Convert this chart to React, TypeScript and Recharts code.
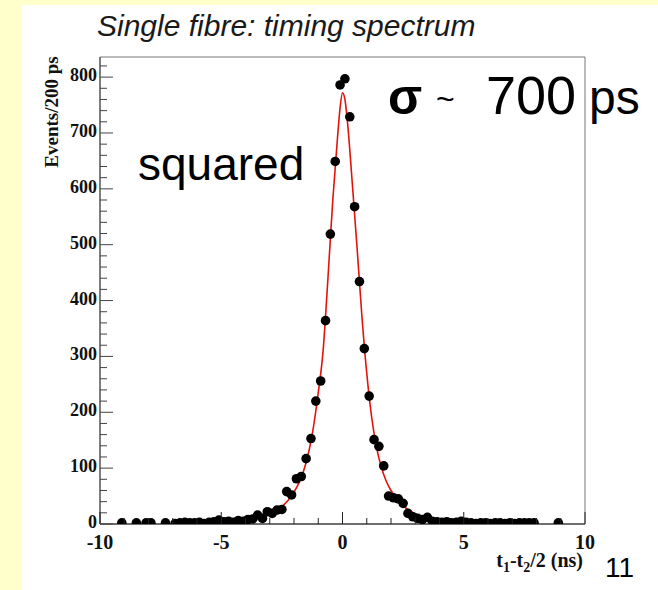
import React from "react";
import {
  ComposedChart,
  Scatter,
  Line,
  XAxis,
  YAxis,
  ReferenceArea,
} from "recharts";

// histogram: bin centres (ns) and counts per 200 ps
const binCentres = [
  -9.1, -8.5, -8.1, -7.9, -7.3, -6.9, -6.7, -6.5, -6.3, -6.1, -5.9, -5.7, -5.5, -5.3,
  -5.1, -4.9, -4.7, -4.5, -4.3, -4.1, -3.9, -3.7, -3.5, -3.3, -3.1, -2.9, -2.7, -2.5,
  -2.3, -2.1, -1.9, -1.7, -1.5, -1.3, -1.1, -0.9, -0.7, -0.5, -0.3, -0.1, 0.1, 0.3,
  0.5, 0.7, 0.9, 1.1, 1.3, 1.5, 1.7, 1.9, 2.1, 2.3, 2.5, 2.7, 2.9, 3.1, 3.3, 3.5,
  3.7, 3.9, 4.1, 4.3, 4.5, 4.7, 4.9, 5.1, 5.3, 5.5, 5.7, 5.9, 6.1, 6.3, 6.5, 6.7,
  6.9, 7.1, 7.3, 7.5, 7.7, 7.9, 8.9,
];
const counts = [
  2, 2, 2, 2, 2, 1, 2, 3, 2, 2, 3, 1, 3, 4,
  7, 4, 5, 3, 6, 5, 8, 9, 16, 10, 22, 19, 25, 26,
  58, 52, 81, 85, 117, 153, 220, 256, 364, 519, 649, 786, 797, 729,
  568, 434, 314, 229, 151, 139, 104, 50, 47, 45, 37, 19, 13, 10, 8, 12,
  5, 4, 3, 4, 2, 3, 5, 3, 2, 1, 2, 2, 1, 2, 2, 1,
  2, 1, 2, 2, 2, 2, 2,
];

// fitted curve
const fitT = [
  -7, -6, -5, -4.5, -4, -3.5, -3, -2.5, -2.25, -2, -1.75, -1.5, -1.25, -1, -0.8,
  -0.6, -0.4, -0.2, -0.1, 0, 0.1, 0.2, 0.4, 0.6, 0.8, 1, 1.2, 1.4, 1.6, 1.8, 2,
  2.25, 2.5, 3, 3.5, 4, 4.5, 5, 6, 7,
];
const fitV = [
  1, 1.5, 3, 4.5, 7, 11, 18, 31, 42, 57, 78, 110, 160, 235, 310,
  440, 580, 695, 745, 772, 760, 722, 612, 495, 372, 270, 192, 138, 102, 77, 60,
  45, 33, 18, 11, 7, 4.5, 3, 1.5, 1,
];

const xTicks = [-10, -9, -8, -7, -6, -5, -4, -3, -2, -1, 0, 1, 2, 3, 4, 5, 6, 7, 8, 9, 10];
const yTicks = [
  0, 20, 40, 60, 80, 100, 120, 140, 160, 180, 200, 220, 240, 260, 280, 300, 320, 340,
  360, 380, 400, 420, 440, 460, 480, 500, 520, 540, 560, 580, 600, 620, 640, 660, 680,
  700, 720, 740, 760, 780, 800, 820,
];

const points = binCentres.map((t, i) => ({ t, v: counts[i] }));
const fit = fitT.map((t, i) => ({ t, v: fitV[i] }));

const serif = "'Liberation Serif', 'DejaVu Serif', serif";
const sans = "'Liberation Sans', Arial, Helvetica, sans-serif";

const YTick = (props: any) => {
  const { x, y, payload } = props;
  const major = payload.value % 100 === 0;
  return (
    <g>
      <line x1={x} x2={x + (major ? 13 : 7)} y1={y} y2={y} stroke="#444" strokeWidth={1} />
      {major && (
        <text
          x={x - 3}
          y={y + 4}
          textAnchor="end"
          fontFamily={serif}
          fontWeight="bold"
          fontSize={18}
          fill="#111"
        >
          {payload.value}
        </text>
      )}
    </g>
  );
};

const XTick = (props: any) => {
  const { x, y, payload } = props;
  const major = payload.value % 5 === 0;
  return (
    <g>
      <line x1={x} x2={x} y1={y} y2={y - (major ? 12 : 6)} stroke="#222" strokeWidth={1} />
      {major && (
        <text
          x={x}
          y={y + 25}
          textAnchor="middle"
          fontFamily={serif}
          fontWeight="bold"
          fontSize={20}
          fill="#111"
        >
          {payload.value}
        </text>
      )}
    </g>
  );
};

const Dot = (props: any) => <circle cx={props.cx} cy={props.cy} r={4.8} fill="#000" />;

export default function App() {
  return (
    <div
      style={{
        position: "absolute",
        left: 0,
        top: 0,
        width: 658,
        height: 590,
        background: "#ffffcc",
        overflow: "hidden",
      }}
    >
      <div
        style={{
          position: "absolute",
          left: 22,
          top: 5,
          width: 636,
          height: 585,
          background: "#fff",
        }}
      />
      <div style={{ position: "absolute", left: 0, top: 0 }}>
        <ComposedChart
          width={658}
          height={590}
          margin={{ top: 57, right: 73, bottom: 26, left: 40 }}
        >
          <XAxis
            dataKey="t"
            type="number"
            domain={[-10, 10]}
            ticks={xTicks}
            interval={0}
            tickSize={0}
            tickMargin={0}
            height={40}
            tick={<XTick />}
            axisLine={{ stroke: "#222", strokeWidth: 1.2 }}
            allowDataOverflow
          />
          <YAxis
            type="number"
            domain={[0, 836]}
            ticks={yTicks}
            interval={0}
            tickSize={0}
            tickMargin={0}
            width={60}
            tick={<YTick />}
            axisLine={{ stroke: "#555", strokeWidth: 1.2 }}
            allowDataOverflow
          />
          <ReferenceArea
            x1={-10}
            x2={10}
            y1={0}
            y2={836}
            fill="none"
            stroke="#777"
            strokeWidth={1}
            ifOverflow="visible"
          />
          <Scatter data={points} dataKey="v" shape={<Dot />} isAnimationActive={false} />
          <Line
            data={fit}
            dataKey="v"
            type="monotone"
            stroke="#e3120b"
            strokeWidth={1.6}
            dot={false}
            isAnimationActive={false}
          />
        </ComposedChart>
      </div>
      <svg
        width={658}
        height={590}
        style={{ position: "absolute", left: 0, top: 0, pointerEvents: "none" }}
      >
        <text x={97} y={36} fontFamily={sans} fontStyle="italic" fontSize={30} fill="#1a1a1a">
          Single fibre: timing spectrum
        </text>
        <text
          transform="translate(58,112) rotate(-90)"
          textAnchor="middle"
          fontFamily={serif}
          fontWeight="bold"
          fontSize={19}
          fill="#111"
        >
          Events/200 ps
        </text>
        <text x={138} y={180} fontFamily={sans} fontSize={46} fill="#000">
          squared
        </text>
        <text x={388} y={114} fontFamily={sans} fontWeight="bold" fontSize={50} fill="#000">
          σ
        </text>
        <text x={436} y={110} fontFamily={sans} fontSize={32} fill="#000">
          ~
        </text>
        <text x={486} y={114} fontFamily={sans} fontSize={54} fill="#000">
          700
        </text>
        <text x={589} y={114} fontFamily={sans} fontSize={48} fill="#000">
          ps
        </text>
        <text
          x={583}
          y={567}
          textAnchor="end"
          fontFamily={serif}
          fontWeight="bold"
          fontSize={20}
          fill="#111"
        >
          t<tspan fontSize={14} dy={5}>1</tspan>
          <tspan dy={-5}>-t</tspan>
          <tspan fontSize={14} dy={5}>2</tspan>
          <tspan dy={-5}>/2 (ns)</tspan>
        </text>
        <text x={605} y={577} fontFamily={sans} fontSize={28} fill="#000">
          11
        </text>
      </svg>
    </div>
  );
}
